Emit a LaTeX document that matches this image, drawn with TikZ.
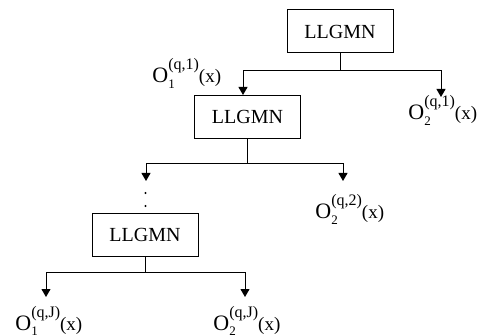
\documentclass[tikz,border=0pt]{standalone}
\usepackage{fontspec}
\setmainfont{Liberation Serif}
\usetikzlibrary{arrows.meta,positioning,calc}

% output label O_{#1}^{(#2)}(x)
\newcommand{\outO}[2]{{\fontsize{11}{13}\selectfont O}\rlap{\raisebox{-2.6pt}{\fontsize{6.5}{7}\selectfont #1}}\raisebox{6.5pt}{\fontsize{8}{9}\selectfont (#2)}{\fontsize{9.5}{11}\selectfont (x)}}

\begin{document}
\begin{tikzpicture}[x=0.5pt,y=-0.5pt,
        net/.style={draw,line width=0.5pt,minimum width=53pt,minimum height=21.5pt,inner sep=0pt,font=\fontsize{10}{12}\selectfont},
        link/.style={line width=0.5pt},
        arr/.style={line width=0.5pt,-{Triangle[length=4pt,width=4.5pt]}},
        outlbl/.style={anchor=base west,inner sep=0pt}]
        \useasboundingbox (0,0) rectangle (481,336);

        % Networks
        \node[net] (net1) at (340,31.5) {LLGMN};
        \node[net] (net2) at (247.5,117) {LLGMN};
        \node[net] (net3) at (145,234.5) {LLGMN};

        % Arrow ends
        \coordinate (t12) at (441,97);
        \coordinate (t21) at (146,181);
        \coordinate (t22) at (343,181);
        \coordinate (t31) at (46,297);
        \coordinate (t32) at (245,297);

        % First split
        \draw[link] (net1.south) -- ++(0,17) coordinate (s1);
        \draw[arr] (s1) -| ($(net2.north)+(-4.5,0)$);
        \draw[arr] (s1) -| (t12);
        \node[outlbl] (o11) at (152,83) {\outO{1}{q,1}};
        \node[outlbl] (o12) at (408,120) {\outO{2}{q,1}};

        % Second split
        \draw[link] (net2.south) -- ++(0,25) coordinate (s2);
        \draw[arr] (s2) -| (t21);
        \draw[arr] (s2) -| (t22);
        \node[outlbl] (o22) at (315,219) {\outO{2}{q,2}};

        % Dots
        \fill (145.5,193) circle (0.55pt);
        \fill (145.5,206) circle (0.55pt);

        % Last split
        \draw[link] (net3.south) -- ++(0,16) coordinate (s3);
        \draw[arr] (s3) -| (t31);
        \draw[arr] (s3) -| (t32);
        \node[outlbl] (oJ1) at (15,330) {\outO{1}{q,J}};
        \node[outlbl] (oJ2) at (213,330) {\outO{2}{q,J}};

    \end{tikzpicture}
\end{document}
